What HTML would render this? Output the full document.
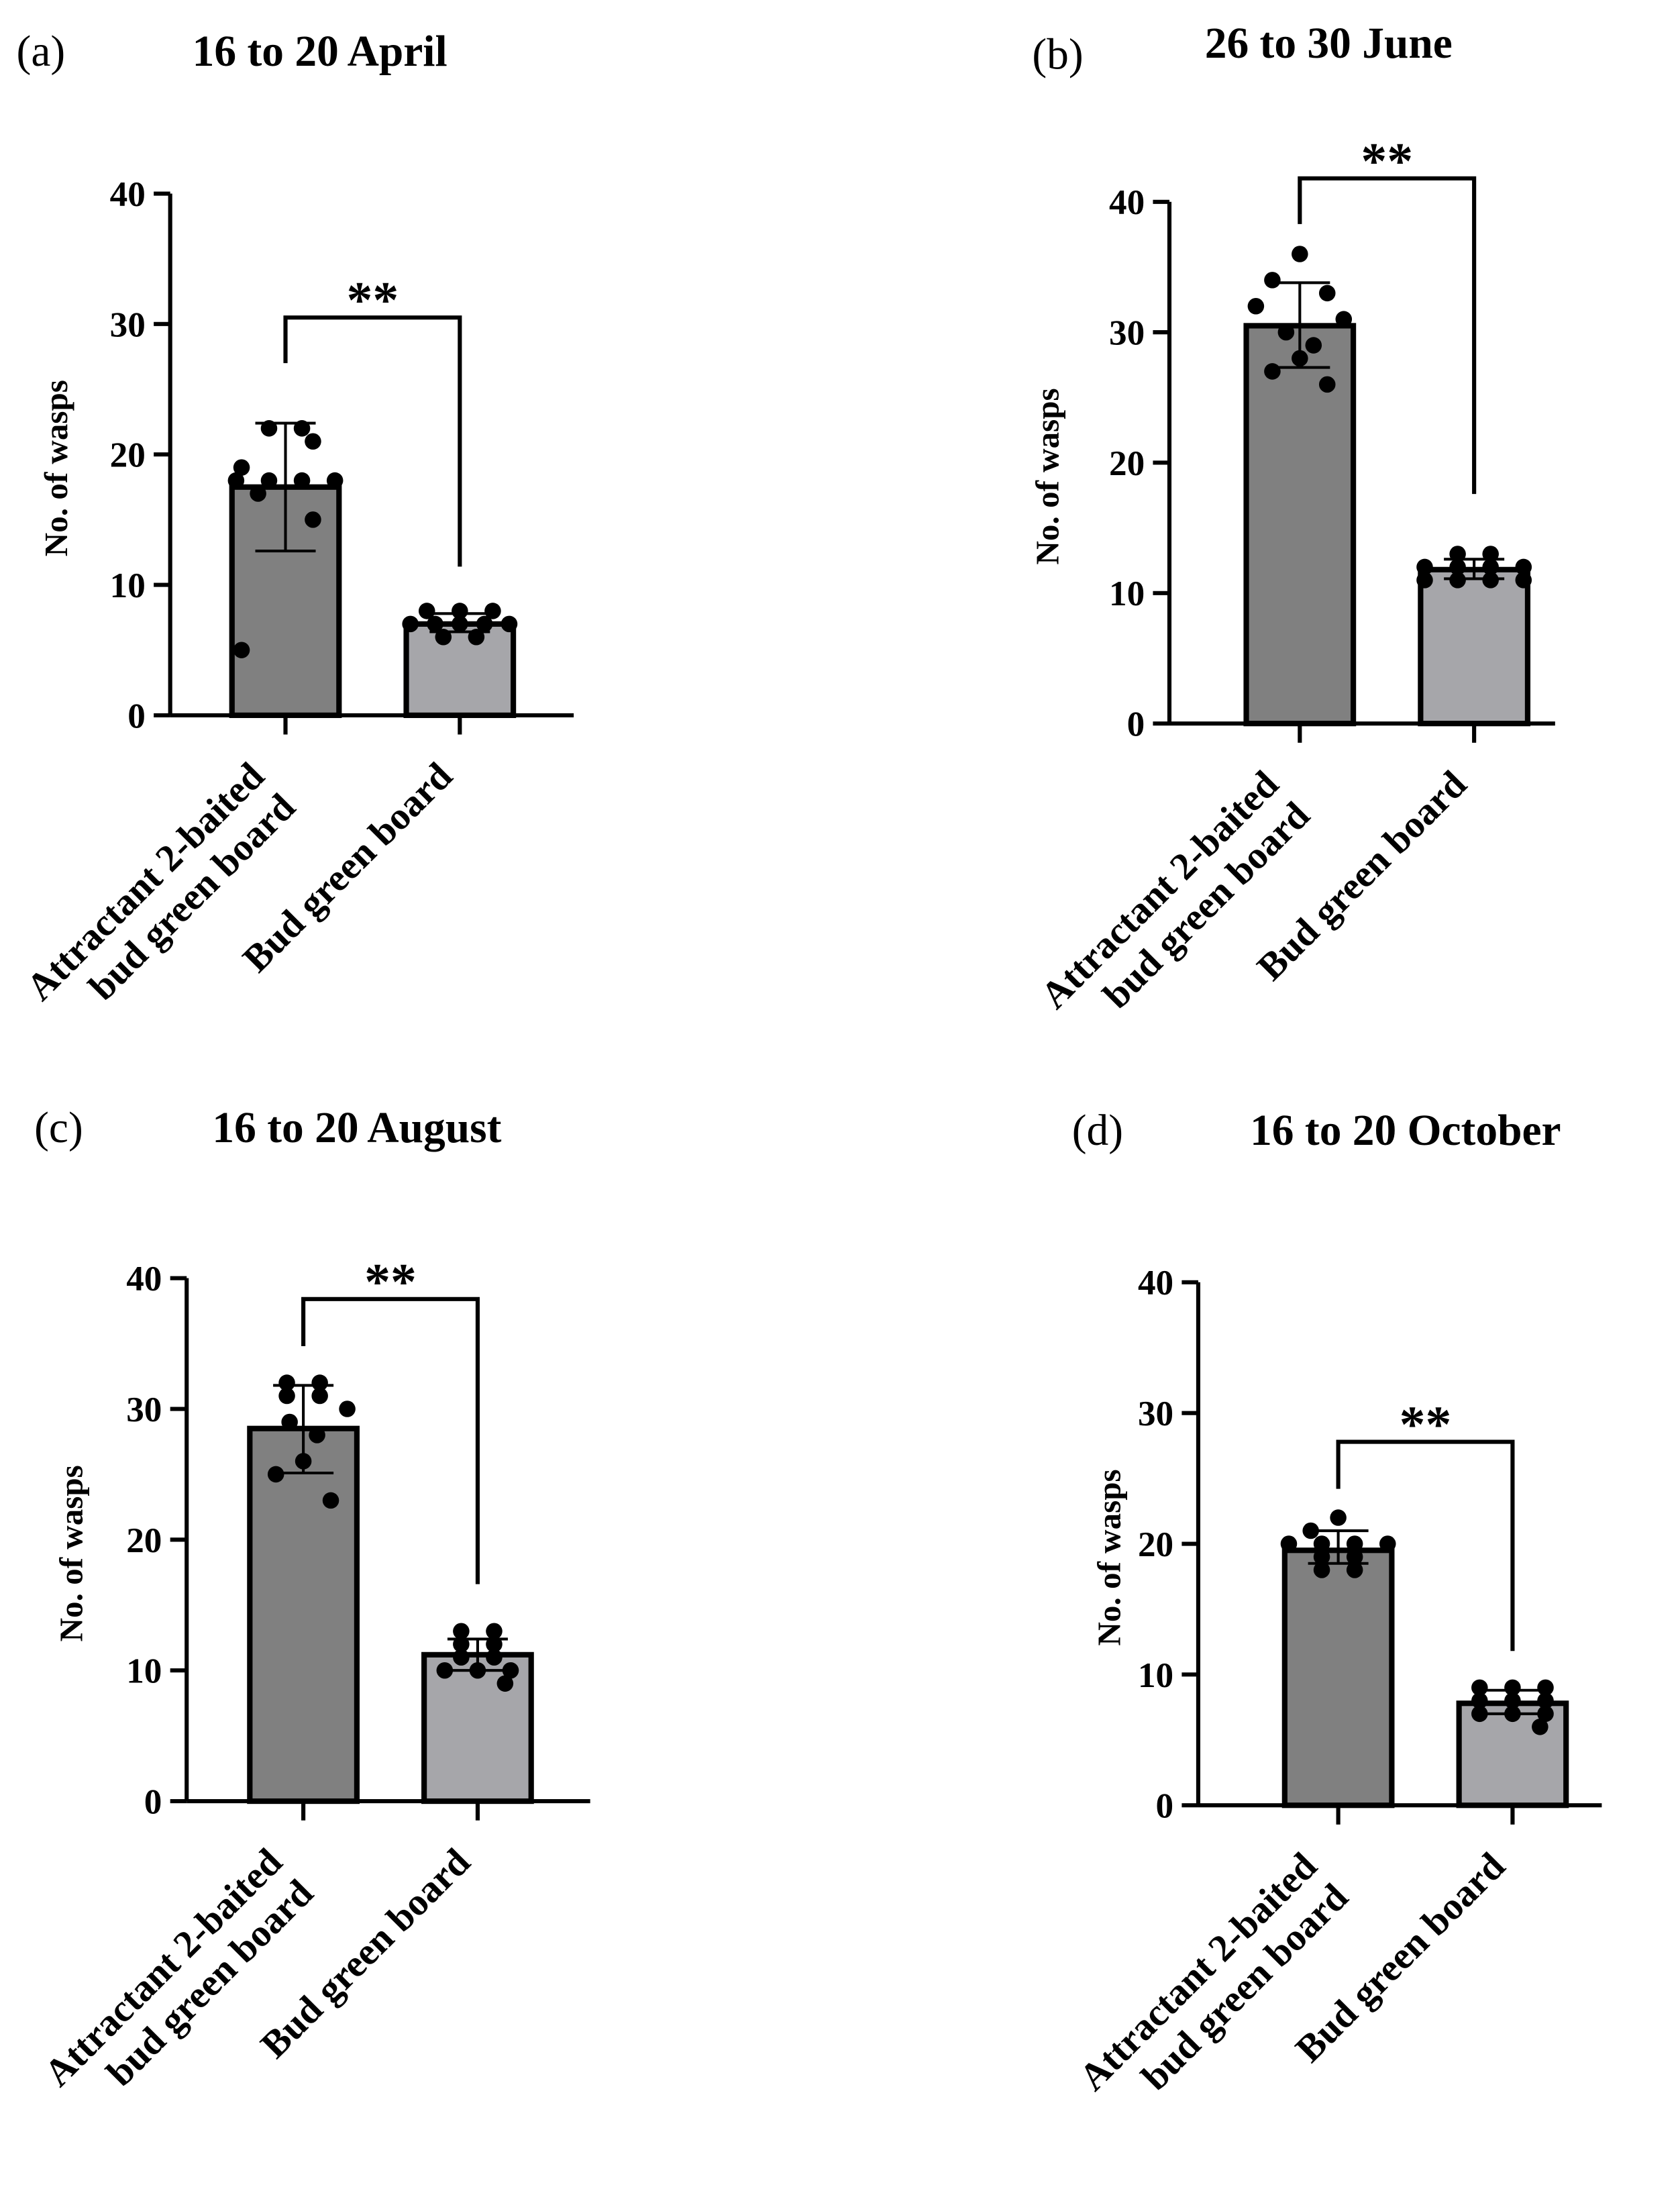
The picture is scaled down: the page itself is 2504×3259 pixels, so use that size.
<!DOCTYPE html>
<html><head><meta charset="utf-8"><style>
html,body{margin:0;padding:0;background:#fff}
svg{display:block}
text{font-family:"Liberation Serif",serif;font-weight:bold;fill:#000}
</style></head><body>
<svg id="fig" width="2504" height="3259" viewBox="0 0 1224 1593" xmlns="http://www.w3.org/2000/svg"></svg>
<script>
const yTicks=[0,10,20,30,40];
const categories=["Attractant 2-baited|bud green board","Bud green board"];
const titles=["16 to 20 April","26 to 30 June","16 to 20 August","16 to 20 October"];
const letters=["(a)","(b)","(c)","(d)"];
const meansA=[17.5,7.0], errA=[[12.6,22.4],[6.4,7.8]];
const ptsA1=[22,22,21,19,18,18,18,18,17,15,5], ptsA2=[8,8,8,7,7,7,7,7,6,6];
const meansB=[30.5,11.8], errB=[[27.3,33.8],[11.1,12.6]];
const ptsB1=[36,34,33,32,31,30,29,28,27,26], ptsB2=[13,13,12,12,12,12,11,11,11,11];
const meansC=[28.5,11.2], errC=[[25.1,31.8],[10.0,12.4]];
const ptsC1=[32,32,31,31,30,29,28,26,25,23], ptsC2=[13,13,12,12,11,11,10,10,10,9];
const meansD=[19.5,7.8], errD=[[18.5,21.0],[7.0,8.8]];
const ptsD1=[22,21,20,20,20,20,19,19,18,18], ptsD2=[9,9,9,8,8,8,7,7,7,6];
const bracketY=[30.5,41.8,38.4,27.8], legL=[27,38.3,34.8,24.2], legR=[11.4,17.6,16.6,11.8];

const layouts=[
 {ax:124,top:141,bot:521,right:418,c:[208,335],lx:12,ly:48,tx:233,ty:48,yl:37},
 {ax:852,top:147,bot:527,right:1133,c:[947,1074],lx:752,ly:50,tx:968,ty:42,yl:759},
 {ax:136,top:931,bot:1312,right:430,c:[221,348],lx:25,ly:832,tx:260,ty:832,yl:48},
 {ax:873,top:934,bot:1315,right:1167,c:[975,1102],lx:781,ly:834,tx:1024,ty:834,yl:804}
];
const jitter=[0,-20,20,-32,32,-10,10];
const means=[meansA,meansB,meansC,meansD], errs=[errA,errB,errC,errD];
const pts=[[ptsA1,ptsA2],[ptsB1,ptsB2],[ptsC1,ptsC2],[ptsD1,ptsD2]];
const NS="http://www.w3.org/2000/svg", svg=document.getElementById('fig');
function mk(tag,attrs,parent){const e=document.createElementNS(NS,tag);for(const k in attrs)e.setAttribute(k,attrs[k]);(parent||svg).appendChild(e);return e;}

for(let p=0;p<4;p++){
 const L=layouts[p];
 const g=mk('g',{});
 
 
 const y=v=>L.bot-(v/40)*(L.bot-L.top);
 const lt=mk('text',{x:L.lx,y:L.ly,'font-size':32,style:'font-weight:normal'},g);lt.textContent=letters[p];
 
 
 const tt=mk('text',{x:L.tx,y:L.ty,'font-size':32,'text-anchor':'middle'},g);tt.textContent=titles[p];
 
 
 const yl=mk('text',{x:0,y:0,'font-size':24,'text-anchor':'middle',transform:`translate(${L.yl+12},${(L.top+L.bot)/2+10}) rotate(-90)`},g);yl.textContent='No. of wasps';
 
 
 const bw=78;
 for(let i=0;i<2;i++){
  const cx=L.c[i], m=means[p][i];
  const r=mk('rect',{x:cx-bw/2,y:y(m),width:bw,height:L.bot-y(m),fill:i?'#a6a6aa':'#808080',stroke:'#000','stroke-width':4},g);
  
  
  const [lo,hi]=errs[p][i];
  const eb=mk('path',{d:`M${cx},${y(lo)}V${y(hi)}M${cx-22},${y(lo)}H${cx+22}M${cx-22},${y(hi)}H${cx+22}`,stroke:'#000','stroke-width':2,fill:'none'},g);
  
  
  const ps=pts[p][i];
  const counts={};
  ps.forEach(v=>{counts[v]=(counts[v]||0)+1;});
  const seen={};
  ps.forEach((v,idx)=>{
   const n=counts[v],k=(seen[v]=(seen[v]||0)+1)-1;
   const off=n===1?jitter[idx%jitter.length]:(k-(n-1)/2)*Math.min(24,72/(n-1));
   const d=mk('circle',{cx:cx+off,cy:y(v),r:6,fill:'#000'},g);
   
   
  });
  mk('line',{x1:cx,y1:L.bot,x2:cx,y2:L.bot+14,stroke:'#000','stroke-width':3},g);
  const lines=categories[i].split('|');
  const xl=mk('text',{'font-size':28,'text-anchor':'end',transform:`translate(${cx-4+(lines.length>1?-10:0)},${L.bot+46}) rotate(-45)`},g);
  
  
  lines.forEach((s,j)=>{const ts=mk('tspan',{x:0,y:j*32},xl);ts.textContent=s;});
 }
 const ya=mk('line',{x1:L.ax,y1:L.top,x2:L.ax,y2:L.bot,stroke:'#000','stroke-width':3},g);
 
 
 const xa=mk('line',{x1:L.ax,y1:L.bot,x2:L.right,y2:L.bot,stroke:'#000','stroke-width':3},g);
 
 
 yTicks.forEach(v=>{
  mk('line',{x1:L.ax-12,y1:y(v),x2:L.ax,y2:y(v),stroke:'#000','stroke-width':3},g);
  const t=mk('text',{x:L.ax-18,y:y(v)+9,'font-size':26,'text-anchor':'end'},g);t.textContent=v;
  
  
 });
 const by=y(bracketY[p]);
 const br=mk('path',{d:`M${L.c[0]},${y(legL[p])}V${by}H${L.c[1]}V${y(legR[p])}`,stroke:'#000','stroke-width':3,fill:'none'},g);
 
 
 const st=mk('text',{x:(L.c[0]+L.c[1])/2,y:by,'font-size':38,'text-anchor':'middle'},g);st.textContent='**';
 
 
}
</script>
</body></html>
